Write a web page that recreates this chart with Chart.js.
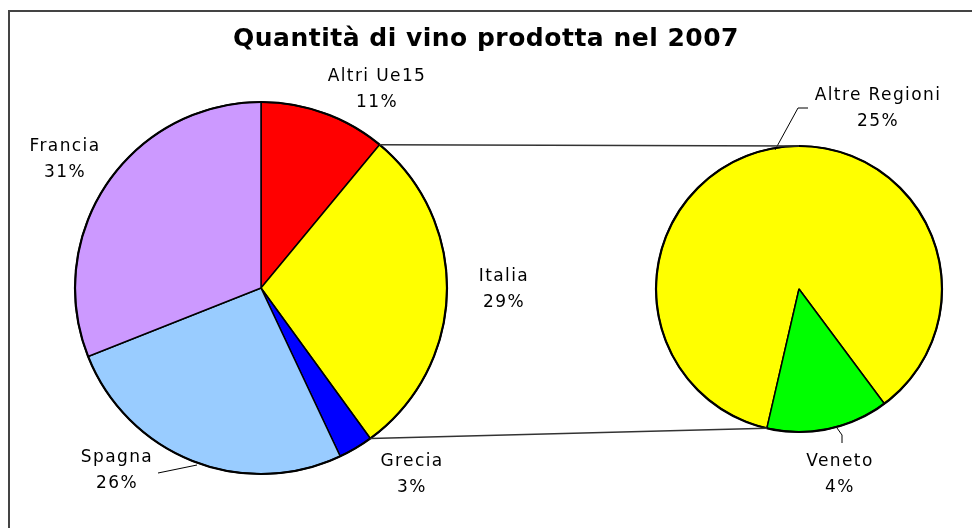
<!DOCTYPE html>
<html>
<head>
<meta charset="utf-8">
<script src="https://cdn.jsdelivr.net/npm/chart.js@4/dist/chart.umd.min.js"></script>
<style>
html, body { margin: 0; padding: 0; background: #fff; }
#wrap { position: relative; width: 972px; height: 528px; }
#wrap canvas { position: absolute; left: 0; top: 0; }
</style>
</head>
<body>
<div id="wrap">
<canvas id="main" width="972" height="528"></canvas>
<canvas id="sub" width="972" height="528"></canvas>
</div>
<script>
const titleText = 'Quantità di vino prodotta nel 2007';

const mainLabels = ['Altri Ue15', 'Italia', 'Grecia', 'Spagna', 'Francia'];
const mainValues = [11, 29, 3, 26, 31];
const mainColors = ['#ff0000', '#ffff00', '#0000ff', '#99ccff', '#cc99ff'];

const subLabels = ['Altre Regioni', 'Veneto'];
const subValues = [25, 4];
const subColors = ['#ffff00', '#00ff00'];

const splitIndex = 1; // Italia is broken down in the second pie

// label block centres, offsets from the pie centre
const mainLabelOffsets = [[116, -198], [243, 2], [151, 187], [-144, 183], [-196, -128]];
const subLabelOffsets = [[79, -180], [41, 186]];
const mainLeaders = [null, null, null, [[-64, 177], [-103, 185]], null];
const subLeaders = [[[-24, -139], [-1, -181], [9, -181]], [[38, 139], [43, 146], [43, 154]]];

const labelFont = '17px "DejaVu Sans"';

function drawLabels(chart, names, values, offsets, leaders)
{
    const ctx = chart.ctx;
    const arcs = chart.getDatasetMeta(0).data;
    const cx = arcs[0].x;
    const cy = arcs[0].y;
    ctx.save();

    // heavier outer rim like the original
    ctx.strokeStyle = '#000';
    ctx.lineWidth = 2.2;
    ctx.beginPath();
    ctx.arc(cx, cy, arcs[0].outerRadius, 0, Math.PI * 2);
    ctx.stroke();

    ctx.lineWidth = 1;
    for(let i=0; i<names.length; i++)
    {
        if(leaders[i])
        {
            ctx.beginPath();
            for(let j=0; j<leaders[i].length; j++)
            {
                const p = leaders[i][j];
                if(j === 0) ctx.moveTo(cx + p[0], cy + p[1]);
                else ctx.lineTo(cx + p[0], cy + p[1]);
            }
            ctx.stroke();
        }
        const x = cx + offsets[i][0];
        const y = cy + offsets[i][1];
        ctx.font = labelFont;
        ctx.letterSpacing = '1.4px';
        ctx.fillStyle = '#000';
        ctx.textAlign = 'center';
        ctx.textBaseline = 'middle';
        ctx.fillText(names[i], x, y - 13);
        ctx.fillText(values[i] + '%', x, y + 13);
    }
    ctx.restore();
}

const mainLabelPlugin = {
    id: 'mainLabels',
    afterDraw(chart)
    {
        drawLabels(chart, mainLabels, mainValues, mainLabelOffsets, mainLeaders);
    }
};

const subLabelPlugin = {
    id: 'subLabels',
    afterDraw(chart)
    {
        drawLabels(chart, subLabels, subValues, subLabelOffsets, subLeaders);

        const ctx = chart.ctx;
        ctx.save();

        // frame
        ctx.strokeStyle = '#444';
        ctx.lineWidth = 2;
        ctx.strokeRect(9, 11, 1000, 1000);

        // title
        ctx.font = 'bold 25px "DejaVu Sans"';
        ctx.letterSpacing = '0.5px';
        ctx.fillStyle = '#000';
        ctx.textAlign = 'center';
        ctx.textBaseline = 'alphabetic';
        ctx.fillText(titleText, 486, 46);

        // connector lines from the split slice to the second pie
        if(mainChart)
        {
            const a = mainChart.getDatasetMeta(0).data[splitIndex];
            const subArcs = chart.getDatasetMeta(0).data;
            const b = subArcs[0];
            const v = subArcs[1];
            const p1 = [a.x + a.outerRadius * Math.cos(a.startAngle), a.y + a.outerRadius * Math.sin(a.startAngle)];
            const p2 = [a.x + a.outerRadius * Math.cos(a.endAngle), a.y + a.outerRadius * Math.sin(a.endAngle)];
            const q1 = [b.x, b.y - b.outerRadius];
            const q2 = [v.x + v.outerRadius * Math.cos(v.endAngle), v.y + v.outerRadius * Math.sin(v.endAngle)];
            ctx.strokeStyle = '#333';
            ctx.lineWidth = 1.5;
            ctx.beginPath();
            ctx.moveTo(p1[0], p1[1]);
            ctx.lineTo(q1[0], q1[1]);
            ctx.moveTo(p2[0], p2[1]);
            ctx.lineTo(q2[0], q2[1]);
            ctx.stroke();
        }
        ctx.restore();
    }
};

let mainChart = null;

mainChart = new Chart(document.getElementById('main').getContext('2d'), {
    type: 'pie',
    data: {
        labels: mainLabels,
        datasets: [{
            data: mainValues,
            backgroundColor: mainColors,
            borderColor: '#000',
            borderWidth: 1.5
        }]
    },
    options: {
        responsive: false,
        animation: false,
        radius: 186,
        rotation: 0,
        layout: { padding: { left: 75, right: 525, top: 102, bottom: 54 } },
        plugins: { legend: { display: false }, tooltip: { enabled: false } }
    },
    plugins: [mainLabelPlugin]
});

const subChart = new Chart(document.getElementById('sub').getContext('2d'), {
    type: 'pie',
    data: {
        labels: subLabels,
        datasets: [{
            data: subValues,
            backgroundColor: subColors,
            borderColor: '#000',
            borderWidth: 1.5
        }]
    },
    options: {
        responsive: false,
        animation: false,
        radius: 143,
        rotation: 193,
        layout: { padding: { left: 656, right: 30, top: 146, bottom: 96 } },
        plugins: { legend: { display: false }, tooltip: { enabled: false } }
    },
    plugins: [subLabelPlugin]
});
</script>
</body>
</html>
